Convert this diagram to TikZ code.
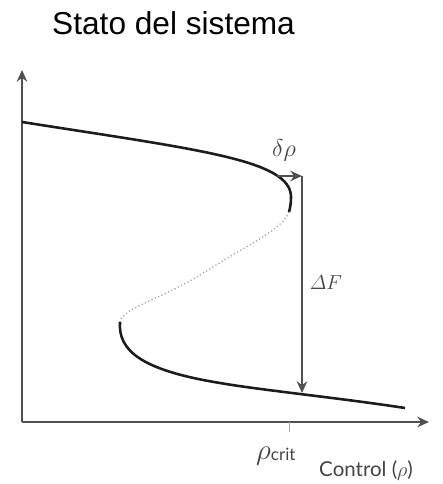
\documentclass[tikz,border=0pt]{standalone}
\usepackage{amsmath}
\usepackage{fontspec}
\setmainfont{Liberation Sans}
\newfontfamily\lato{Lato}
\usetikzlibrary{positioning,arrows.meta}

\definecolor{axisgray}{HTML}{505050}
\definecolor{curveblack}{HTML}{1C1C1C}
\definecolor{labelgray}{HTML}{444444}

\tikzset{
  axis/.style={draw=axisgray, line width=1.4pt, -{Stealth[length=10pt,width=9pt]}},
  branch/.style={draw=curveblack, line width=2.2pt},
  unstable/.style={draw=gray!70, line width=1.1pt, dotted},
  jump/.style={draw=axisgray, line width=1.3pt, -{Stealth[length=10pt,width=9pt]}},
  lbl/.style={text=labelgray, inner sep=0pt},
}

\begin{document}
\begin{tikzpicture}[x=0.03cm, y=-0.03cm]
    \useasboundingbox (0,0) rectangle (442,484);

    % Title
    \node[anchor=base west, inner sep=0pt] (title) at (52,35) {\fontsize{27}{30}\selectfont Stato del sistema};

    % Axes
    \coordinate (origin) at (22,422);
    \coordinate (ytip) at (22,70);
    \coordinate (xtip) at (429,422);
    \draw[axis] (origin) -- (ytip);
    \draw[axis] (origin) -- (xtip);

    % Critical value tick
    \coordinate (crit) at (289,422);
    \coordinate (critlow) at (289,432);
    \draw[gray!70, line width=0.8pt] (crit) -- (critlow);

    % Stable branches and unstable branch
    \coordinate (start) at (22,122);
    \coordinate (upfold) at (289,212);
    \coordinate (lowfold) at (120,322);
    \coordinate (finish) at (405,408);
    \draw[branch] (start) .. controls (200,150) and (291,160) .. (291,197)
        .. controls (291,204) and (290,208) .. (upfold);
    \draw[unstable] (upfold) .. controls (282,230) and (250,243) .. (205,272)
        .. controls (160,300) and (122,308) .. (lowfold);
    \draw[branch] (lowfold) .. controls (118,350) and (140,370) .. (220,383)
        .. controls (260,390) and (340,398) .. (finish);

    % Jump
    \coordinate (shift) at (277,176);
    \coordinate (jumptop) at (302,176);
    \coordinate (jumpbot) at (302,393);
    \draw[jump] (shift) -- (jumptop);
    \draw[jump] (jumptop) -- (jumpbot);

    % Labels
    \node[lbl] (drho) at (284,150) {\fontsize{21}{24}\selectfont$\delta\rho$};
    \node[lbl] (dF) at (326,283) {\fontsize{18}{22}\selectfont$\varDelta F$};
    \node[lbl, anchor=base west] (rhocrit) at (256,459) {\fontsize{23}{26}\selectfont$\rho$\raisebox{-1pt}{\fontsize{14.5}{16}\selectfont\lato crit}};
    \node[lbl, anchor=base west] (control) at (319,476) {\fontsize{17.5}{20}\selectfont\lato Control ($\rho$)};
\end{tikzpicture}
\end{document}
